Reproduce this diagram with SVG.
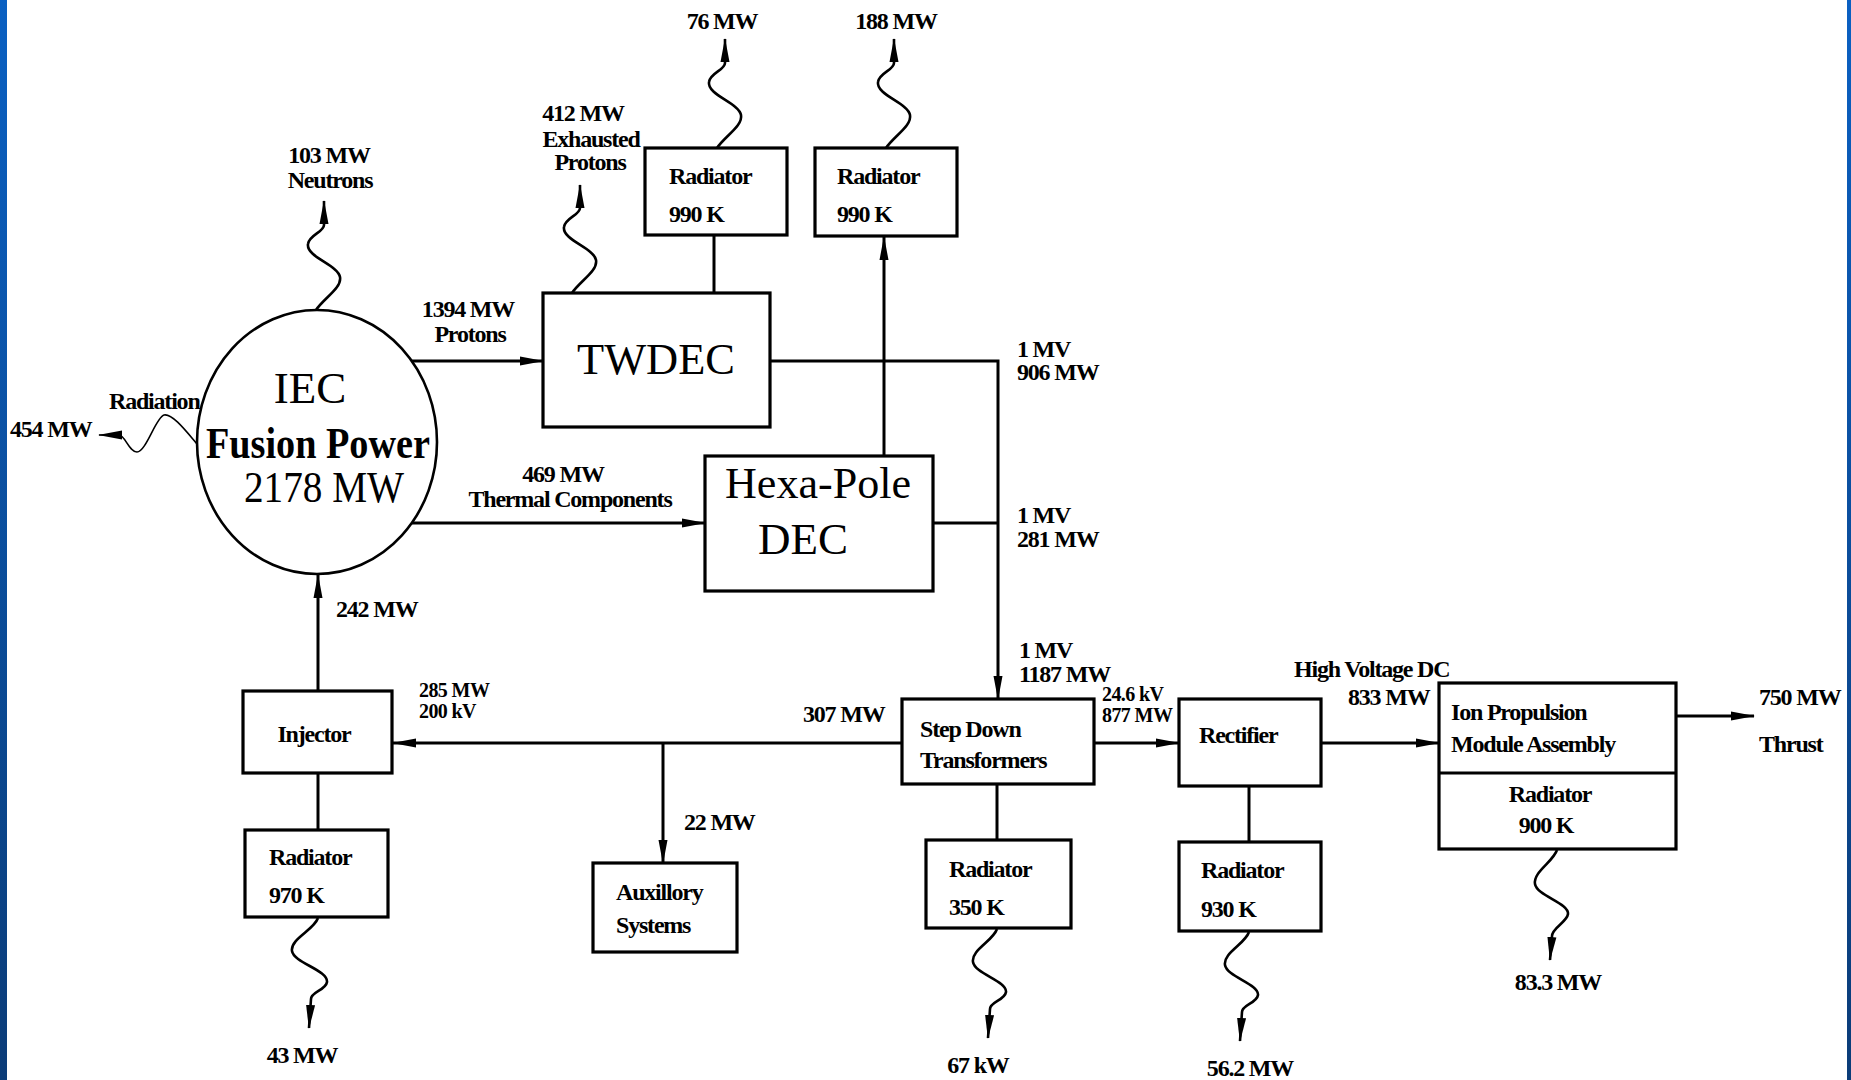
<svg xmlns="http://www.w3.org/2000/svg" width="1851" height="1080" viewBox="0 0 1851 1080">
<defs>
<linearGradient id="bord" x1="0" y1="0" x2="0" y2="1">
<stop offset="0" stop-color="#0a60c2"/>
<stop offset="1" stop-color="#0b3c78"/>
</linearGradient>
<marker id="ah" viewBox="0 0 24 10" refX="23" refY="5" markerWidth="24" markerHeight="10" markerUnits="userSpaceOnUse" orient="auto">
<path d="M0,0.5 L24,5 L0,9.5 z" fill="#000"/>
</marker>
<style>
.box{fill:#fff;stroke:#000;stroke-width:3.2}
.ln{fill:none;stroke:#000;stroke-width:3}
.wv{fill:none;stroke:#000;stroke-width:2.6;stroke-linejoin:round}
.thin{fill:none;stroke:#000;stroke-width:1.6}
.lb{font-family:"Liberation Serif",serif;font-weight:bold;font-size:24px;letter-spacing:-1.2px;fill:#000}
.sm{font-size:20px;letter-spacing:-0.6px}
.big{font-family:"Liberation Serif",serif;font-size:45px;fill:#000}
.mid{text-anchor:middle}
</style>
</defs>
<rect x="0" y="0" width="1851" height="1080" fill="#fff"/>
<rect x="0" y="0" width="7" height="1080" fill="url(#bord)"/>
<rect x="1847" y="0" width="4" height="1080" fill="url(#bord)"/>

<g id="connectors">
<line class="ln" x1="411" y1="361" x2="543" y2="361" marker-end="url(#ah)"/>
<line class="ln" x1="412" y1="523" x2="705" y2="523" marker-end="url(#ah)"/>
<polyline class="ln" points="770,361 998,361 998,699" marker-end="url(#ah)"/>
<line class="ln" x1="933" y1="523" x2="998" y2="523"/>
<line class="ln" x1="884" y1="456" x2="884" y2="237" marker-end="url(#ah)"/>
<line class="ln" x1="714" y1="235" x2="714" y2="293"/>
<line class="ln" x1="318" y1="691" x2="318" y2="575" marker-end="url(#ah)"/>
<line class="ln" x1="902" y1="743" x2="393" y2="743" marker-end="url(#ah)"/>
<line class="ln" x1="663" y1="743" x2="663" y2="863" marker-end="url(#ah)"/>
<line class="ln" x1="318" y1="773" x2="318" y2="830"/>
<line class="ln" x1="997" y1="784" x2="997" y2="840"/>
<line class="ln" x1="1094" y1="743" x2="1179" y2="743" marker-end="url(#ah)"/>
<line class="ln" x1="1321" y1="743" x2="1439" y2="743" marker-end="url(#ah)"/>
<line class="ln" x1="1249" y1="786" x2="1249" y2="842"/>
<line class="ln" x1="1676" y1="716" x2="1754" y2="716" marker-end="url(#ah)"/>
<path class="wv" d="M316,310 c8,-12 26,-22 24,-33 c-2,-12 -34,-20 -32,-33 c1,-9 16,-12 16,-19 l0,-24" marker-end="url(#ah)"/>
<path class="wv" d="M572,293 c8,-12 26,-22 24,-33 c-2,-12 -34,-20 -32,-33 c1,-9 16,-12 16,-19 l0,-23" marker-end="url(#ah)"/>
<path class="wv" d="M717,148 c8,-12 26,-22 24,-33 c-2,-12 -34,-20 -32,-33 c1,-9 16,-12 16,-19 l0,-24" marker-end="url(#ah)"/>
<path class="wv" d="M886,148 c8,-12 26,-22 24,-33 c-2,-12 -34,-20 -32,-33 c1,-9 16,-12 16,-19 l0,-24" marker-end="url(#ah)"/>
<path class="wv" d="M318,918 c-4,12 -28,21 -26,33 c2,12 36,19 35,31 c-1,8 -16,10 -16,17 l-2,29" marker-end="url(#ah)"/>
<path class="wv" d="M997,929 c-4,12 -26,21 -24,33 c2,12 34,19 33,30 c-1,8 -16,10 -16,17 l-2,29" marker-end="url(#ah)"/>
<path class="wv" d="M1249,932 c-4,12 -26,21 -24,33 c2,12 34,19 33,30 c-1,8 -16,10 -16,17 l-2,29" marker-end="url(#ah)"/>
<path class="wv" d="M1557,850 c-4,12 -24,22 -22,34 c2,12 34,19 33,30 c-1,8 -16,14 -16,22 l-2,24" marker-end="url(#ah)"/>
<path class="thin" d="M197,444 C186,431 172,413 164,415 C156,417 146,452 137,452 C129,452 125,435 119,435 L99,435" marker-end="url(#ah)"/>
</g>

<g id="iec">
<ellipse cx="317" cy="442" rx="120" ry="132" fill="#fff" stroke="#000" stroke-width="2.6"/>
<text class="big mid" x="310" y="403">IEC</text>
<text class="big" x="206" y="458" font-size="36" font-weight="bold" textLength="224" lengthAdjust="spacingAndGlyphs">Fusion Power</text>
<text class="big" x="244" y="502" font-size="36" textLength="160" lengthAdjust="spacingAndGlyphs">2178 MW</text>
</g>

<g id="twdec">
<rect class="box" x="543" y="293" width="227" height="134"/>
<text class="big" x="577" y="374" font-size="46" textLength="158" lengthAdjust="spacingAndGlyphs">TWDEC</text>
</g>

<g id="hexapole">
<rect class="box" x="705" y="456" width="228" height="135"/>
<text class="big" x="725" y="498" textLength="186" lengthAdjust="spacingAndGlyphs">Hexa-Pole</text>
<text class="big" x="758" y="554" textLength="90" lengthAdjust="spacingAndGlyphs">DEC</text>
</g>

<g id="radiator1">
<rect class="box" x="645" y="148" width="142" height="87"/>
<text class="lb" x="669" y="184">Radiator</text>
<text class="lb" x="669" y="222">990 K</text>
</g>

<g id="radiator2">
<rect class="box" x="815" y="148" width="142" height="88"/>
<text class="lb" x="837" y="184">Radiator</text>
<text class="lb" x="837" y="222">990 K</text>
</g>

<g id="injector">
<rect class="box" x="243" y="691" width="149" height="82"/>
<text class="lb mid" x="314" y="742">Injector</text>
</g>

<g id="radiator970">
<rect class="box" x="245" y="830" width="143" height="87"/>
<text class="lb" x="269" y="865">Radiator</text>
<text class="lb" x="269" y="903">970 K</text>
</g>

<g id="auxiliary">
<rect class="box" x="593" y="863" width="144" height="89"/>
<text class="lb" x="616" y="900">Auxillory</text>
<text class="lb" x="616" y="933">Systems</text>
</g>

<g id="stepdown">
<rect class="box" x="902" y="699" width="192" height="85"/>
<text class="lb" x="920" y="737">Step Down</text>
<text class="lb" x="920" y="768">Transformers</text>
</g>

<g id="radiator350">
<rect class="box" x="926" y="840" width="145" height="88"/>
<text class="lb" x="949" y="877">Radiator</text>
<text class="lb" x="949" y="915">350 K</text>
</g>

<g id="rectifier">
<rect class="box" x="1179" y="699" width="142" height="87"/>
<text class="lb" x="1199" y="743">Rectifier</text>
</g>

<g id="radiator930">
<rect class="box" x="1179" y="842" width="142" height="89"/>
<text class="lb" x="1201" y="878">Radiator</text>
<text class="lb" x="1201" y="917">930 K</text>
</g>

<g id="ionpropulsion">
<rect class="box" x="1439" y="683" width="237" height="166"/>
<line class="ln" x1="1439" y1="773" x2="1676" y2="773"/>
<text class="lb" x="1451" y="720">Ion Propulsion</text>
<text class="lb" x="1451" y="752">Module Assembly</text>
<text class="lb mid" x="1550" y="802">Radiator</text>
<text class="lb mid" x="1546" y="833">900 K</text>
</g>

<g id="labels">
<text class="lb mid" x="329" y="163">103 MW</text>
<text class="lb mid" x="330" y="188">Neutrons</text>
<text class="lb mid" x="583" y="121">412 MW</text>
<text class="lb mid" x="591" y="147">Exhausted</text>
<text class="lb mid" x="590" y="170">Protons</text>
<text class="lb mid" x="722" y="29">76 MW</text>
<text class="lb mid" x="896" y="29">188 MW</text>
<text class="lb mid" x="468" y="317">1394 MW</text>
<text class="lb mid" x="470" y="342">Protons</text>
<text class="lb" x="109" y="409">Radiation</text>
<text class="lb" x="10" y="437">454 MW</text>
<text class="lb mid" x="563" y="482">469 MW</text>
<text class="lb mid" x="570" y="507">Thermal Components</text>
<text class="lb" x="1017" y="357">1 MV</text>
<text class="lb" x="1017" y="380">906 MW</text>
<text class="lb" x="1017" y="523">1 MV</text>
<text class="lb" x="1017" y="547">281 MW</text>
<text class="lb" x="336" y="617">242 MW</text>
<text class="lb" x="1019" y="658">1 MV</text>
<text class="lb" x="1019" y="682">1187 MW</text>
<text class="lb sm" x="419" y="697">285 MW</text>
<text class="lb sm" x="419" y="718">200 kV</text>
<text class="lb" x="803" y="722">307 MW</text>
<text class="lb" x="684" y="830">22 MW</text>
<text class="lb mid" x="302" y="1063">43 MW</text>
<text class="lb sm" x="1102" y="701">24.6 kV</text>
<text class="lb sm" x="1102" y="722">877 MW</text>
<text class="lb mid" x="978" y="1073">67 kW</text>
<text class="lb mid" x="1250" y="1076">56.2 MW</text>
<text class="lb" x="1294" y="677">High Voltage DC</text>
<text class="lb" x="1348" y="705">833 MW</text>
<text class="lb" x="1759" y="705">750 MW</text>
<text class="lb" x="1759" y="752">Thrust</text>
<text class="lb mid" x="1558" y="990">83.3 MW</text>
</g>
</svg>
